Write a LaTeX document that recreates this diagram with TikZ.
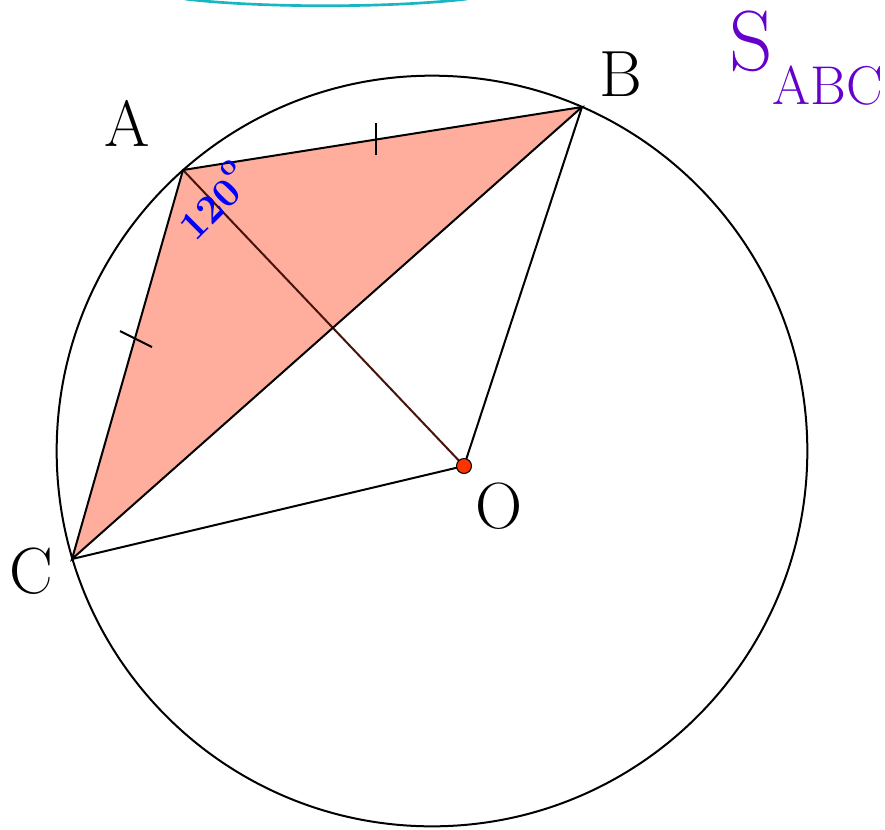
\documentclass[tikz,border=0pt]{standalone}
\usepackage{fontspec}
\definecolor{tri}{RGB}{255,173,156}
\definecolor{arccyan}{RGB}{24,182,194}
\definecolor{spurple}{RGB}{102,0,204}
\definecolor{dotred}{RGB}{255,51,0}
\definecolor{angblue}{RGB}{0,0,255}
\tikzset{
  edge/.style={line width=1.5pt, black},
  ptlabel/.style={font=\fontsize{49}{49}\selectfont, inner sep=0pt},
  tick/.style={line width=1.5pt, black}
}
\begin{document}
\begin{tikzpicture}[x=0.75pt,y=-0.75pt]
\useasboundingbox (0,0) rectangle (885,829);
\fill[white] (0,0) rectangle (885,829);
% points
\coordinate (A) at (183,170);
\coordinate (B) at (582,107);
\coordinate (C) at (72,559);
\coordinate (O) at (464,466);
\coordinate (M) at (432,451);
% top cyan arc
\coordinate (t1) at (185,-1);
\coordinate (t2) at (467,-1);
\draw[arccyan, line width=2pt] (t1) .. controls (260,8) and (390,8) .. (t2);
% triangle fill
\fill[tri] (A) -- (B) -- (C) -- cycle;
% circle
\draw[edge] (M) circle [radius=281.5pt];
% segments
\draw[edge, color={rgb,255:red,70;green,20;blue,10}] (A) -- (O);
\draw[edge] (B) -- (O);
\draw[edge] (C) -- (O);
\draw[edge] (A) -- (B) -- (C) -- cycle;
% ticks
\coordinate (k1) at (376,123);
\coordinate (k2) at (376,155);
\draw[tick] (k1) -- (k2);
\coordinate (k3) at (120,331);
\coordinate (k4) at (152,347);
\draw[tick] (k3) -- (k4);
% center dot
\filldraw[fill=dotred, draw=black, line width=0.8pt] (O) circle [radius=5.6pt];
% labels
\node[ptlabel] (lA) at (127,123) {A};
\node[ptlabel] (lB) at (621,74) {B};
\node[ptlabel] (lC) at (31,571) {C};
\node[ptlabel] (lO) at (499,506) {O};
\node[rotate=45, inner sep=0pt, text=angblue, font=\fontsize{30}{30}\selectfont\bfseries] (ang) at (213,200) {120\raisebox{0.55em}{\fontsize{22}{22}\selectfont o}};
\node[inner sep=0pt, text=spurple, anchor=base west] (S) at (729,70) {\fontsize{64}{64}\selectfont S\raisebox{-0.4em}{\fontsize{41}{41}\selectfont ABC}};
\end{tikzpicture}
\end{document}
